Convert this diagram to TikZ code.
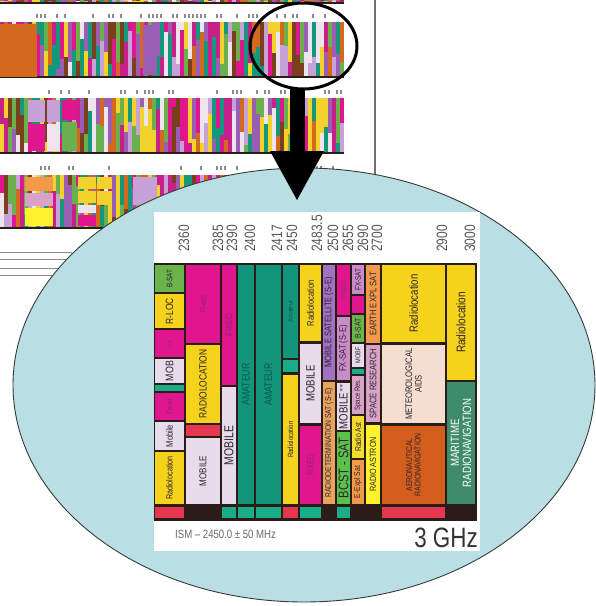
\documentclass[tikz,border=0pt]{standalone}
\usepackage{fontspec}
\setmainfont{Liberation Sans}
\newfontfamily\bandfont[FakeStretch=0.8]{Liberation Sans}
\usepackage{tikz}
\usetikzlibrary{calc, arrows.meta, positioning, shapes.geometric}

% band colours
\definecolor{fixmag}{HTML}{E0168E}
\definecolor{moblav}{HTML}{E8DCEC}
\definecolor{radyel}{HTML}{F5D21C}
\definecolor{amagreen}{HTML}{12957A}
\definecolor{bsat}{HTML}{6DB34C}
\definecolor{cellred}{HTML}{E53850}
\definecolor{chartdark}{HTML}{2A1C16}
\definecolor{stripteal}{HTML}{1AAE88}
\definecolor{msspurple}{HTML}{A171C2}
\definecolor{rdsstan}{HTML}{E8A45E}
\definecolor{fxsat}{HTML}{C98BC9}
\definecolor{bcstgreen}{HTML}{5CC14A}
\definecolor{explorange}{HTML}{F29A4A}
\definecolor{spres}{HTML}{D9A3C8}
\definecolor{astyel}{HTML}{FFF22E}
\definecolor{radast}{HTML}{F3DC2E}
\definecolor{metpeach}{HTML}{F3DED0}
\definecolor{aeroorange}{HTML}{D45F1C}
\definecolor{maritime}{HTML}{3E8D68}
\definecolor{txd}{HTML}{2E2330}
\definecolor{txm}{HTML}{8E2470}
\definecolor{txg}{HTML}{0A5C48}
\definecolor{freqgray}{HTML}{555555}
\definecolor{footgray}{HTML}{6A6A6A}
\definecolor{zoomblue}{HTML}{B9DEE3}
\definecolor{ellgray}{HTML}{3A3A3A}
\definecolor{pagegray}{HTML}{6E6E6E}
\definecolor{tickgray}{HTML}{8A8A8A}
% overview palette
\definecolor{pal1}{HTML}{E0168E}
\definecolor{pal2}{HTML}{9A5FB5}
\definecolor{pal3}{HTML}{C7A2D8}
\definecolor{pal4}{HTML}{F2D22B}
\definecolor{pal5}{HTML}{D2691E}
\definecolor{pal6}{HTML}{14977A}
\definecolor{pal7}{HTML}{6AB04C}
\definecolor{pal8}{HTML}{EDE4EE}
\definecolor{pal9}{HTML}{7B3F1E}
\definecolor{pal10}{HTML}{C8208A}

\tikzset{
  band label/.style={rotate=90, inner sep=0pt, align=center},
  freq label/.style={rotate=90, anchor=west, inner sep=0pt, text=freqgray,
    font=\bandfont\fontsize{15}{15}\selectfont},
}

\begin{document}
\begin{tikzpicture}[x=1pt,y=-1pt]
  \useasboundingbox (0,0) rectangle (596,606);
  \fill[white] (0,0) rectangle (596,606);

  % overview chart (page behind)
  \pgfmathsetseed{11}
  \foreach \ya/\yb in {0/3,22/77,98/153,175/228}{
    \foreach \xa in {0,4,...,340}{
      \pgfmathrandominteger{\ka}{1}{10}
      \pgfmathrandominteger{\kb}{1}{10}
      \pgfmathrandominteger{\sp}{15}{85}
      \pgfmathsetmacro{\ym}{\ya+(\yb-\ya)*\sp/100}
      \fill[pal\ka] (\xa,\ya) rectangle (\xa+4,\ym);
      \fill[pal\kb] (\xa,\ym) rectangle (\xa+4,\yb);
    }
    \draw[chartdark, line width=1.5pt] (0,\yb) -- (344,\yb);
  }
  \fill[pal5] (0,24) rectangle (37,77);
  \fill[pal2] (143,25) rectangle (157,75);
  \fill[pal3] (28,100) rectangle (45,122);
  \fill[pal1] (28,124) rectangle (45,151);
  \fill[pal3] (47,100) rectangle (60,122);
  \fill[pal8] (47,124) rectangle (60,151);
  \fill[pal1] (62,100) rectangle (77,120);
  \fill[pal7] (62,122) rectangle (77,151);
  \fill[explorange] (25,177) rectangle (53,191);
  \fill[spres] (25,193) rectangle (53,206);
  \fill[astyel] (25,208) rectangle (53,226);
  \fill[pal4] (78,177) rectangle (96,189);
  \fill[pal4] (78,191) rectangle (96,203);
  \fill[pal8] (78,205) rectangle (96,213);
  \fill[pal1] (78,215) rectangle (96,226);
  \fill[pal4] (97,177) rectangle (112,189);
  \fill[pal4] (97,191) rectangle (112,205);
  \fill[pal3] (133,177) rectangle (157,205);
  \fill[pal1] (133,207) rectangle (157,226);

  % tick marks above the rows
  \foreach \yt in {14,90,166}{
    \foreach \xt in {36,40,...,340}{
      \pgfmathrandominteger{\on}{0}{2}
      \ifnum\on=0 \fill[tickgray] (\xt,\yt) rectangle (\xt+1.5,\yt+4); \fi
    }
  }

  % legend lines
  \foreach \yl in {252,259,268,275}{
    \draw[tickgray, line width=0.8pt] (0,\yl) -- (72,\yl);
  }
  \draw[pagegray, line width=2pt] (375,0) -- (375,185);

  % magnifier
  \node[ellipse, draw, line width=3pt, minimum width=107, minimum height=86, inner sep=0] (lens) at (303.5,46) {};

  % zoomed view
  \node[ellipse, draw=ellgray, fill=zoomblue, line width=0.9pt, minimum width=582, minimum height=434, inner sep=0] (zoom) at (304,385) {};
  \fill[white] (154,212) rectangle (480,551);
  \fill[chartdark] (154,263) rectangle (477,521);

  \foreach \xa/\ya/\xb/\yb/\col/\fs/\tc/\lbl [count=\n] in {
    155/265/184/292/bsat/8/txd/B-SAT,
    155/294/184/328/radyel/10.5/txd/R-LOC,
    155/330/184/357/fixmag/6/txm/FX,
    155/359/184/383/moblav/11/txd/MOB,
    155/385/184/391/stripteal/5/txd/{},
    155/393/184/420/fixmag/8/txm/Fixed,
    155/422/184/450/moblav/9.5/txd/Mobile,
    155/452/184/504/radyel/9/txd/Radiolocation,
    186/265/220/343/fixmag/8.5/txm/Fixed,
    186/345/220/423/radyel/10.5/txd/RADIOLOCATION,
    186/425/220/436/cellred/5/txd/{},
    186/438/220/504/moblav/10/txd/MOBILE,
    222/265/236/385/fixmag/10/txm/FIXED,
    222/387/236/504/moblav/13/txd/MOBILE,
    238/265/254/504/amagreen/11/txg/AMATEUR,
    256/265/281/504/amagreen/11/txg/AMATEUR,
    283/265/298/358/amagreen/7/txg/Amateur,
    283/360/298/372/stripteal/5/txd/{},
    283/375/298/504/radyel/7.5/txd/Radiolocation,
    300/265/321/341/radyel/9.5/txd/Radiolocation,
    300/344/321/423/moblav/12/txd/MOBILE,
    300/426/321/504/fixmag/9/txm/FIXED,
    323/265/335/380/msspurple/9.5/txd/MOBILE SATELLITE (S-E),
    323/382/335/504/rdsstan/8.5/txd/RADIODETERMINATION SAT (S-E),
    337/265/350/315/fixmag/8/txm/FIXED,
    337/317/350/380/fxsat/9.5/txd/FX-SAT (S-E),
    337/383/350/430/moblav/12/txd/MOBILE$^{**}$,
    337/432/350/504/bcstgreen/14/txd/BCST - SAT,
    352/265/364/294/fxsat/8/txd/FX-SAT,
    352/296/364/313/fixmag/5/txm/{},
    352/315/364/342/bsat/8.5/txd/B-SAT,
    352/344/364/367/moblav/7/txd/MOBF,
    352/369/364/374/stripteal/4/txd/{},
    352/376/364/414/spres/7.5/txd/Space Res.,
    352/416/364/458/radast/8.5/txd/Radio Ast,
    352/460/364/504/explorange/8.5/txd/E-Expl Sat,
    366/265/380/343/explorange/9.5/txd/EARTH EXPL SAT,
    366/345/380/422/spres/9.5/txd/SPACE RESEARCH,
    366/425/380/504/astyel/9/txd/RADIO ASTRON,
    382/265/445/342/radyel/12/txd/Radiolocation,
    382/345/445/423/metpeach/9.5/txd/METEOROLOGICAL\\AIDS,
    382/426/445/504/aeroorange/8.5/txd/AERONAUTICAL\\RADIONAVIGATION,
    447/265/475/380/radyel/12.5/txd/Radiolocation,
    447/382/475/504/maritime/12/white/MARITIME\\RADIONAVIGATION}{
    \fill[\col] (\xa,\ya) rectangle (\xb,\yb);
    \node[band label, text=\tc, font=\bandfont\fontsize{\fs}{\fs}\selectfont] (b\n) at ({(\xa+\xb)/2},{(\ya+\yb)/2}) {\lbl};
  }

  % bottom strip
  \foreach \xa/\xb/\col in {155/184/cellred, 222/236/stripteal, 238/254/stripteal,
    256/281/stripteal, 283/298/cellred, 300/321/stripteal, 337/350/stripteal, 382/445/cellred}{
    \fill[\col] (\xa,507) rectangle (\xb,518);
  }

  % band edges
  \foreach \x/\f [count=\n] in {184/2360, 218/2385, 232/2390, 250/2400, 277/2417, 292/2450,
    317/2483.5, 333/2500, 348/2655, 363/2690, 377/2700, 442/2900, 470/3000}{
    \node[freq label] (f\n) at (\x,252) {\f};
  }

  \node[anchor=west, inner sep=0, text=footgray, font=\bandfont\fontsize{12}{12}\selectfont] (ism) at (175,534) {ISM – 2450.0 ± 50 MHz};
  \node[anchor=east, inner sep=0, text=black!80, font=\bandfont\fontsize{28}{28}\selectfont] (ghz) at (478,538) {3 GHz};

  % pointer
  \coordinate (tip) at (297,201);
  \draw[line width=15pt, -{Triangle[length=50pt,width=50pt]}] ($(lens.south -| tip)+(0,-3)$) -- (tip);
\end{tikzpicture}
\end{document}
